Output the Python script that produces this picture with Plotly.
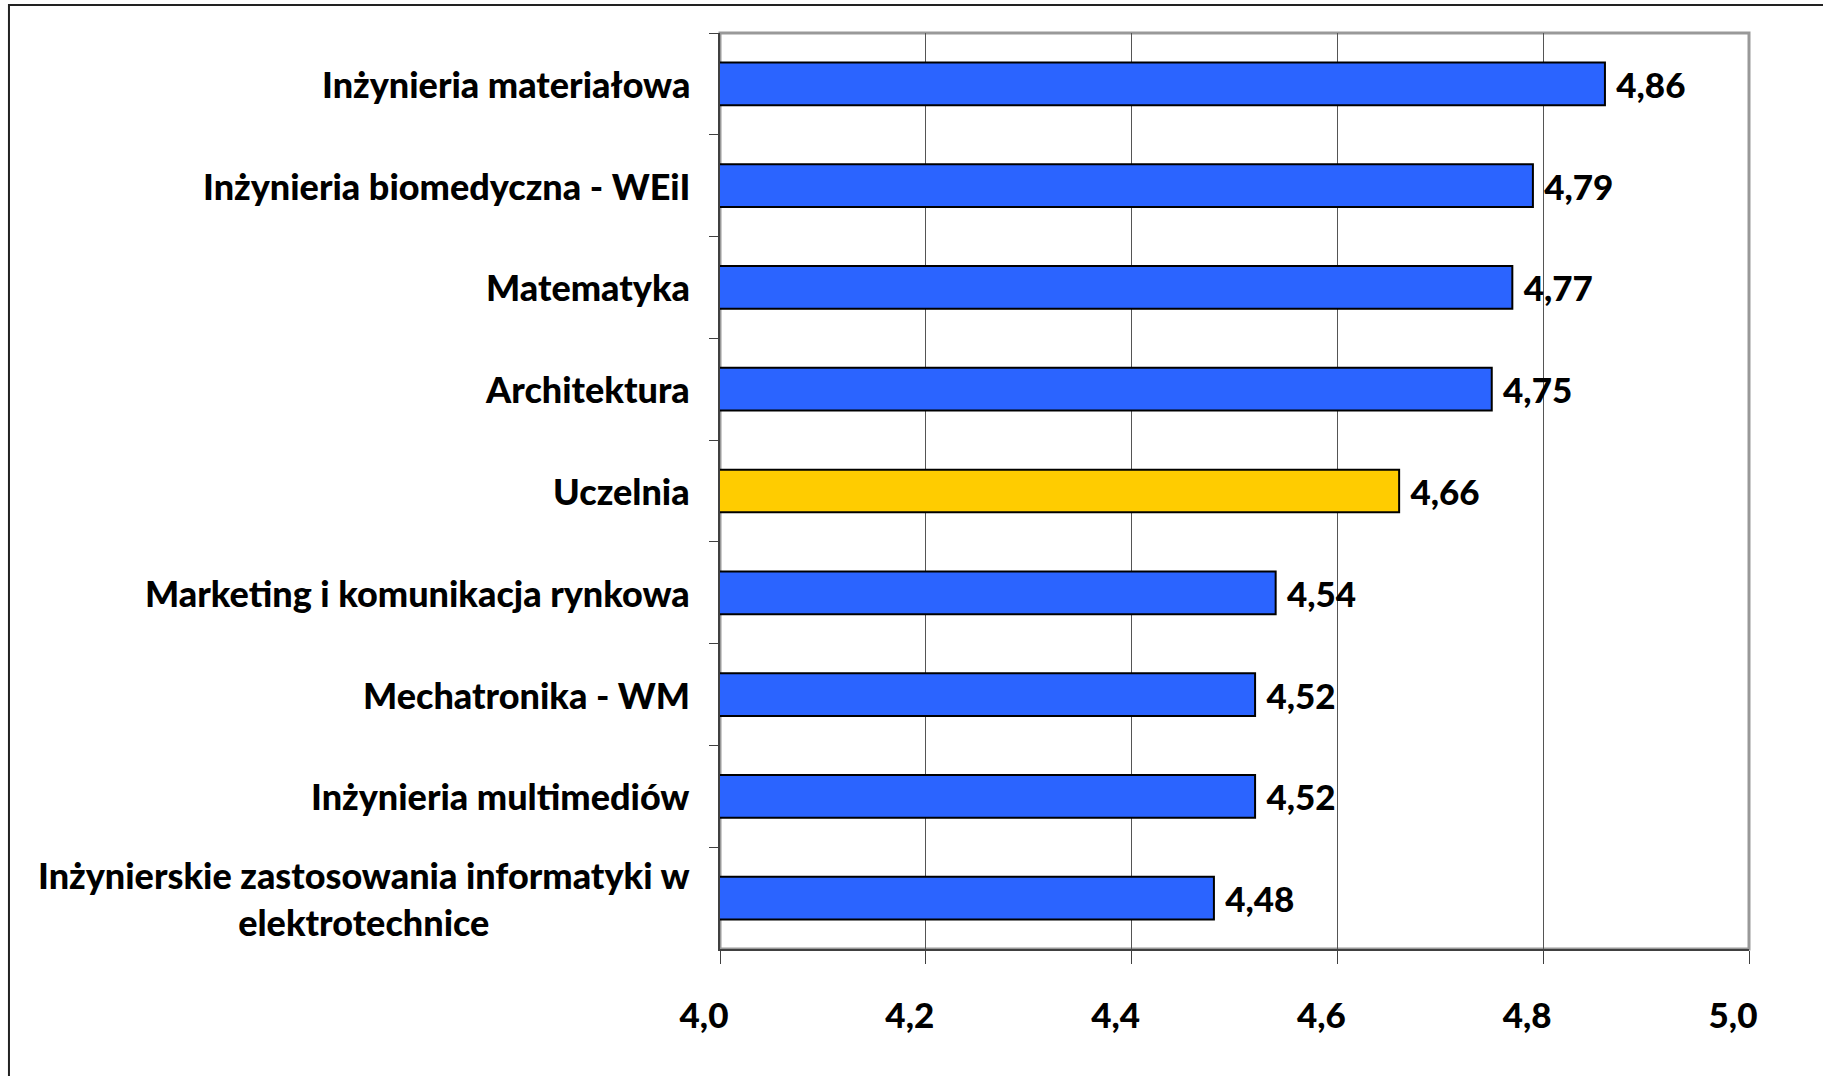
import plotly.graph_objects as go

# kierunki (top -> bottom) and mean scores
kierunki = [
    "Inżynieria materiałowa",
    "Inżynieria biomedyczna - WEiI",
    "Matematyka",
    "Architektura",
    "Uczelnia",
    "Marketing i komunikacja rynkowa",
    "Mechatronika - WM",
    "Inżynieria multimediów",
    "Inżynierskie zastosowania informatyki w<br>elektrotechnice",
]
oceny = [4.86, 4.79, 4.77, 4.75, 4.66, 4.54, 4.52, 4.52, 4.48]
x_ticks = [4.0, 4.2, 4.4, 4.6, 4.8, 5.0]

BLUE = "#2B64FF"
YELLOW = "#FFCC00"
FONT = "Lato"
colors = [YELLOW if k == "Uczelnia" else BLUE for k in kierunki]

fig = go.Figure()
fig.add_trace(go.Bar(
    y=kierunki, x=oceny, orientation="h", base=0,
    marker=dict(color=colors, line=dict(color="#000000", width=2)),
    width=0.42,
    texttemplate=" %{x:.2f}", textposition="outside",
    textfont=dict(family=FONT, size=35, color="#000000", weight=900),
    cliponaxis=False,
))

# category labels as annotations (centered multi-line like the original)
for k in kierunki:
    fig.add_annotation(
        x=0, xref="paper", y=k, yref="y", text=k, showarrow=False,
        xanchor="right", xshift=-28, align="center",
        font=dict(family=FONT, size=36, color="#000000", weight=900),
    )

# grey plot-area border (left/bottom hidden under the axes) and outer chart frame
fig.add_shape(type="rect", xref="paper", yref="paper", x0=0, x1=1, y0=0, y1=1,
              line=dict(color="#999999", width=3), layer="between")
fig.add_shape(type="rect", xref="paper", yref="paper",
              x0=-0.691, x1=1.1, y0=-0.16, y1=1.0306,
              line=dict(color="#222222", width=2))

fig.update_layout(
    width=1823, height=1076,
    margin=dict(l=720, r=74, t=33, b=127),
    paper_bgcolor="white", plot_bgcolor="white",
    separators=", ",
    showlegend=False,
)
fig.update_xaxes(
    range=[4.0, 5.0], tickvals=x_ticks, tickformat=".1f",
    showgrid=True, gridcolor="#555555", gridwidth=1,
    showline=True, linecolor="#404040", linewidth=2,
    ticks="outside", ticklen=13, tickcolor="#404040",
    ticklabelstandoff=22, ticklabelshift=-16,
    tickfont=dict(family=FONT, size=35, color="#000000", weight=900),
    zeroline=False,
)
fig.update_yaxes(
    autorange="reversed", type="category",
    showticklabels=False, showgrid=False,
    showline=True, linecolor="#404040", linewidth=2,
    ticks="outside", ticklen=9, tickcolor="#404040", tickson="boundaries",
)

# drop the default page margin so the figure fills the window exactly
fig.write_html("out.html", config={"displayModeBar": False},
               post_script="document.body.style.margin='0';")
